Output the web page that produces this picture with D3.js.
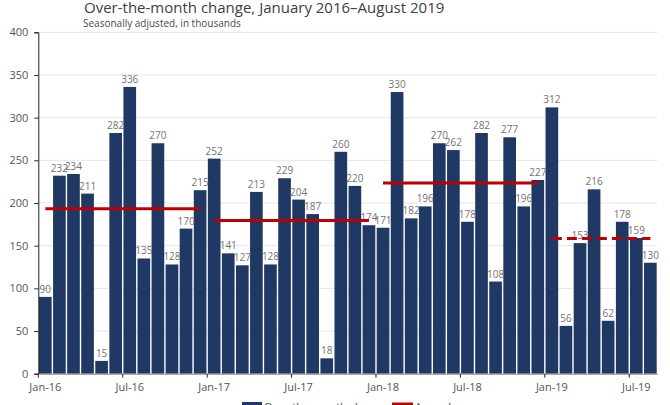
<!DOCTYPE html>
<html><head><meta charset="utf-8">
<script src="https://cdn.jsdelivr.net/npm/d3@7"></script>
<style>body{margin:0;background:#fff;overflow:hidden}svg{display:block}</style>
</head><body>
<svg id="c" width="670" height="405"></svg>
<script>
const months = ["Jan-16","Feb-16","Mar-16","Apr-16","May-16","Jun-16","Jul-16","Aug-16","Sep-16","Oct-16","Nov-16","Dec-16",
"Jan-17","Feb-17","Mar-17","Apr-17","May-17","Jun-17","Jul-17","Aug-17","Sep-17","Oct-17","Nov-17","Dec-17",
"Jan-18","Feb-18","Mar-18","Apr-18","May-18","Jun-18","Jul-18","Aug-18","Sep-18","Oct-18","Nov-18","Dec-18",
"Jan-19","Feb-19","Mar-19","Apr-19","May-19","Jun-19","Jul-19","Aug-19"];
const values = [90,232,234,211,15,282,336,135,270,128,170,215,
252,141,127,213,128,229,204,187,18,260,220,174,
171,330,182,196,270,262,178,282,108,277,196,227,
312,56,153,216,62,178,159,130];
const averages = [
  {start:"Jan-16", end:"Dec-16", value:193.2, dashed:false},
  {start:"Jan-17", end:"Dec-17", value:179.4, dashed:false},
  {start:"Jan-18", end:"Dec-18", value:223.3, dashed:false},
  {start:"Jan-19", end:"Aug-19", value:158.3, dashed:true}
];
const xTickLabels = ["Jan-16","Jul-16","Jan-17","Jul-17","Jan-18","Jul-18","Jan-19","Jul-19"];
const yTicks = [0,50,100,150,200,250,300,350,400];

const svg = d3.select("#c");
const font = "'Open Sans', sans-serif";
const L = 38.3, R = 657.4, T = 32.3, B = 373.7;
const x = d3.scaleBand().domain(months).range([L, R]).paddingInner(0.1).paddingOuter(0.05);
const xb = d3.scaleBand().domain(months).range([L, R]);
const y = d3.scaleLinear().domain([0,400]).range([B, T]);

// gridlines
svg.append("g").selectAll("line").data(yTicks.filter(d=>d>0)).join("line")
  .attr("x1", L).attr("x2", R).attr("y1", d=>y(d)).attr("y2", d=>y(d))
  .attr("stroke", "#e3e6ea").attr("stroke-width", 1);

// bars
svg.append("g").selectAll("rect").data(values).join("rect")
  .attr("x", (d,i)=>x(months[i])).attr("width", x.bandwidth())
  .attr("y", d=>y(d)).attr("height", d=>B - y(d))
  .attr("fill", "#1f3864");

// value labels
svg.append("g").selectAll("text").data(values).join("text")
  .attr("x", (d,i)=>xb(months[i]) + xb.bandwidth()/2).attr("y", d=>y(d)-4)
  .attr("text-anchor","middle").attr("font-family",font).attr("font-size",10)
  .attr("fill","#737373").text(d=>d);

// average lines
svg.append("g").selectAll("line").data(averages).join("line")
  .attr("x1", d=>xb(d.start)+xb.bandwidth()/2).attr("x2", d=>xb(d.end)+xb.bandwidth()/2)
  .attr("y1", d=>y(d.value)).attr("y2", d=>y(d.value))
  .attr("stroke", "#c00000").attr("stroke-width", 3)
  .attr("stroke-dasharray", d=>d.dashed ? "10,5" : null);

// y axis
const yAxis = svg.append("g").attr("transform",`translate(${L},0)`)
  .call(d3.axisLeft(y).tickValues(yTicks).tickSize(4).tickPadding(6));
yAxis.select(".domain").attr("stroke","#222");
yAxis.selectAll(".tick line").attr("stroke","#222");
yAxis.selectAll("text").attr("font-family",font).attr("font-size",11).attr("fill","#555");

// x axis
const xAxis = svg.append("g").attr("transform",`translate(0,${B})`)
  .call(d3.axisBottom(xb).tickValues(xTickLabels).tickSize(0).tickPadding(10));
xAxis.select(".domain").attr("stroke","#888");
xAxis.selectAll("text").attr("font-family",font).attr("font-size",11).attr("fill","#555");
xAxis.selectAll(".tick").each(function(d){
  d3.select(this).append("line").attr("x1",-xb.bandwidth()/2).attr("x2",-xb.bandwidth()/2)
    .attr("y1",0).attr("y2",4).attr("stroke","#222");
});

// title
svg.append("text").attr("x",84).attr("y",13).attr("font-family",font).attr("font-size",15)
  .attr("fill","#404040").text("Over-the-month change, January 2016\u2013August 2019");
svg.append("text").attr("x",83).attr("y",27).attr("font-family",font).attr("font-size",10)
  .attr("fill","#4a4a4a").text("Seasonally adjusted, in thousands");

// legend
const lg = svg.append("g");
lg.append("rect").attr("x",242).attr("y",402).attr("width",20).attr("height",10).attr("fill","#1f3864");
lg.append("text").attr("x",264).attr("y",411).attr("font-family",font).attr("font-size",11).attr("fill","#444").text("Over-the-month change");
lg.append("line").attr("x1",392).attr("x2",413).attr("y1",404).attr("y2",404).attr("stroke","#c00000").attr("stroke-width",3);
lg.append("text").attr("x",415).attr("y",411).attr("font-family",font).attr("font-size",11).attr("fill","#444").text("Annual average");
</script>
</body></html>
